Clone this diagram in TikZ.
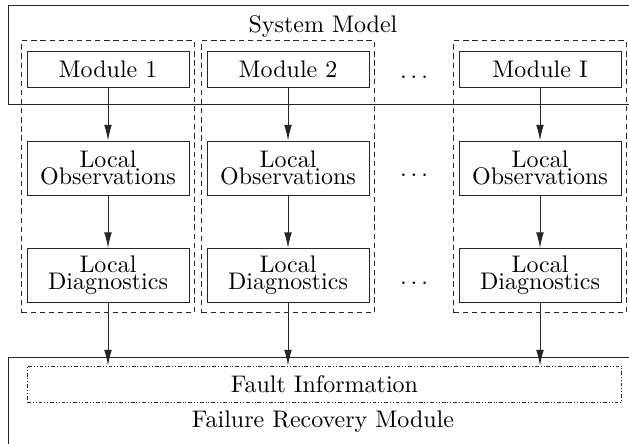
\documentclass[tikz,border=0pt]{standalone}
\usetikzlibrary{arrows.meta,fit}
\begin{document}
\begin{tikzpicture}[x=0.41667pt,y=-0.41667pt,
  box/.style={draw=black!85,minimum width=67.5pt,inner sep=0pt,align=center},
  grp/.style={draw=black!85,dash pattern=on 2.2pt off 1.6pt,inner xsep=2pt,inner ysep=4pt},
  arr/.style={draw=black!85,-{Latex[length=6.5pt,width=3.2pt]}}]
\useasboundingbox (0,0) rectangle (629,444);
\draw [draw=black!85] (8,5) rectangle (640,104);
\draw [draw=black!85] (8,357) rectangle (640,460);
\node (sysname) at (323,27) {System Model};
\node (recname) at (323,422) {Failure Recovery Module};
\node[box,minimum height=15pt] (mod1) at (108,69) {Module 1};
\node[box,minimum height=15pt] (mod2) at (288,69) {Module 2};
\node[box,minimum height=15pt] (modI) at (540,69) {Module I};
\node[box,minimum height=22.5pt] (obs1) at (108,168) {Local\\[-5pt]Observations};
\node[box,minimum height=22.5pt] (obs2) at (288,168) {Local\\[-5pt]Observations};
\node[box,minimum height=22.5pt] (obsI) at (540,168) {Local\\[-5pt]Observations};
\node[box,minimum height=22.5pt] (diag1) at (108,275.5) {Local\\[-5pt]Diagnostics};
\node[box,minimum height=22.5pt] (diag2) at (288,275.5) {Local\\[-5pt]Diagnostics};
\node[box,minimum height=22.5pt] (diagI) at (540,275.5) {Local\\[-5pt]Diagnostics};
\node[grp,fit=(mod1)(diag1)] (col1) {};
\node[grp,fit=(mod2)(diag2)] (col2) {};
\node[grp,fit=(modI)(diagI)] (colI) {};
\node (dotsa) at (414,77) {$\ldots$};
\node (dotsb) at (414,175) {$\ldots$};
\node (dotsc) at (414,283) {$\ldots$};
\node[box,minimum width=247.9pt,minimum height=15pt,
  dash pattern=on 1.6pt off 0.8pt on 0.4pt off 0.8pt on 0.4pt off 0.8pt] (fault) at (324.5,384) {Fault Information};
\draw[arr] (mod1) -- (obs1);
\draw[arr] (mod2) -- (obs2);
\draw[arr] (modI) -- (obsI);
\draw[arr] (obs1) -- (diag1);
\draw[arr] (obs2) -- (diag2);
\draw[arr] (obsI) -- (diagI);
\draw[arr] (diag1) -- (diag1 |- fault.north);
\draw[arr] (diag2) -- (diag2 |- fault.north);
\draw[arr] (diagI) -- (diagI |- fault.north);
\end{tikzpicture}
\end{document}
